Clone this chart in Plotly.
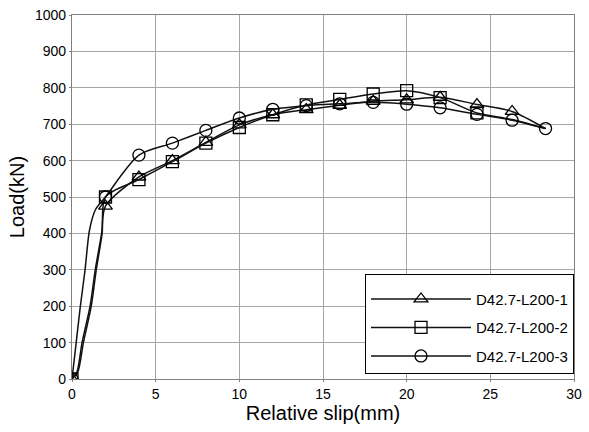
import plotly.graph_objects as go

# ---- data ----
names = ["D42.7-L200-1", "D42.7-L200-2", "D42.7-L200-3"]
symbols = ["triangle-up-open", "square-open", "circle-open"]

# marked test points
x1 = [0, 2, 4, 6, 8, 10, 12, 14, 16, 18, 20, 22, 24.2, 26.3]
y1 = [0, 475, 555, 600, 650, 698, 726, 740, 752, 763, 767, 774, 754, 735]
x2 = [0, 2, 4, 6, 8, 10, 12, 14, 16, 18, 20, 22, 24.2]
y2 = [0, 500, 548, 597, 648, 691, 726, 753, 768, 783, 792, 773, 731]
x3 = [0, 2, 4, 6, 8, 10, 12, 14, 16, 18, 20, 22, 24.2, 26.3, 28.3]
y3 = [0, 500, 615, 648, 683, 717, 741, 751, 756, 760, 755, 745, 727, 711, 688]

# unmarked recorded points on the initial rise
rx1 = [0.3, 0.6, 1.08, 1.39, 1.77]
ry1 = [20, 100, 200, 300, 400]
rx2 = [0.35, 0.68, 1.15, 1.45, 1.8]
ry2 = [20, 100, 200, 300, 400]
rx3 = [0.25, 0.5, 0.78, 1.05, 1.4]
ry3 = [100, 200, 300, 410, 465]

# unmarked recorded points at the end of the descent
ex1 = [28.3]
ey1 = [688]
ex2 = [26.3, 28.3]
ey2 = [713, 688]
ex3 = []
ey3 = []

series = [
    (x1, y1, rx1, ry1, ex1, ey1),
    (x2, y2, rx2, ry2, ex2, ey2),
    (x3, y3, rx3, ry3, ex3, ey3),
]

fig = go.Figure()
ON, OFF = "black", "rgba(0,0,0,0)"
for (mx, my, rx, ry, ex, ey), nm, sym in zip(series, names, symbols):
    xs = [mx[0]] + rx + mx[1:] + ex
    ys = [my[0]] + ry + my[1:] + ey
    cols = [ON] + [OFF] * len(rx) + [ON] * (len(mx) - 1) + [OFF] * len(ex)
    fig.add_trace(go.Scatter(
        x=xs, y=ys, name=nm, mode="lines+markers",
        line=dict(color="#111111", width=1.5, shape="spline", smoothing=0.8),
        marker=dict(symbol=sym, size=12, color=cols,
                    line=dict(width=1.3)),
        legendgroup=nm,
    ))

axis_common = dict(
    showgrid=True, gridcolor="#a6a6a6", gridwidth=1,
    showline=True, linecolor="#808080", linewidth=1.2, mirror=True,
    ticks="outside", ticklen=2, tickcolor="#808080",
    tickfont=dict(family="Liberation Sans, Arial", size=14, color="black"),
    zeroline=False, automargin=False,
)

fig.update_layout(
    width=589, height=432,
    margin=dict(l=72, r=15, t=15, b=53),
    paper_bgcolor="white", plot_bgcolor="white",
    font=dict(family="Liberation Sans, Arial", color="black"),
    xaxis=dict(range=[0, 30], dtick=5,
               title=dict(text="Relative slip(mm)", font=dict(size=20), standoff=2),
               **axis_common),
    yaxis=dict(range=[0, 1000], dtick=100,
               title=dict(text="Load(kN)", font=dict(size=20), standoff=4),
               **axis_common),
    showlegend=True,
    legend=dict(
        x=1.0, xanchor="right", y=0.014, yanchor="bottom",
        bgcolor="white", bordercolor="black", borderwidth=1,
        font=dict(size=15, family="Liberation Sans, Arial"),
        itemwidth=100,
        traceorder="grouped", tracegroupgap=6,
        title=dict(text=" ", font=dict(size=6)),
    ),
)

fig.write_html("out.html", config={"displayModeBar": False},
               post_script="document.body.style.margin='0';document.body.style.overflow='hidden';")
